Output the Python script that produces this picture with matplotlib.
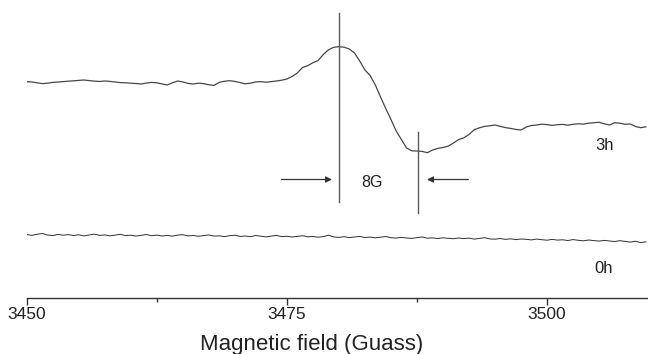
import numpy as np
import matplotlib
matplotlib.use("Agg")
import matplotlib.pyplot as plt

plt.rcParams['font.family'] = ['Liberation Sans', 'DejaVu Sans']

# EPR spectra, field step 0.5 G starting at 3450 G
start_field = 3450.0
step = 0.5

sig_3h = [216.3, 216.0, 215.2, 214.4, 214.8, 215.6, 215.9, 216.4, 216.8, 217.2,
          217.6, 218.0, 217.4, 216.9, 216.5, 217.0, 216.6, 216.0, 215.4, 215.2,
          214.8, 214.5, 214.0, 214.9, 215.6, 215.2, 214.1, 213.0, 215.2, 217.0,
          216.1, 214.6, 214.0, 214.8, 214.4, 213.2, 212.6, 215.6, 216.8, 217.3,
          216.6, 215.4, 214.2, 214.8, 216.1, 216.3, 215.8, 216.4, 217.0, 217.8,
          219.0, 221.5, 225.0, 230.5, 232.3, 235.3, 237.5, 243.5, 248.2, 250.7,
          251.3, 250.8, 249.0, 245.0, 237.0, 228.0, 222.5, 213.0, 201.0, 189.5,
          178.5, 167.0, 158.5, 150.0, 147.2, 147.0, 146.6, 145.3, 148.0, 149.6,
          150.5, 151.8, 155.0, 158.4, 160.2, 163.5, 168.3, 170.2, 171.6, 172.2,
          173.0, 171.6, 170.4, 169.6, 168.6, 168.0, 171.0, 172.5, 173.0, 173.8,
          173.4, 172.6, 173.3, 173.6, 172.8, 173.7, 174.2, 173.9, 174.8, 175.3,
          175.7, 174.2, 173.0, 175.3, 174.8, 173.7, 174.0, 171.5, 170.3, 171.2]

sig_0h = [63.5, 62.6, 63.8, 64.5, 63.0, 62.4, 63.6, 62.8, 63.4, 62.5,
          63.2, 62.1, 63.0, 63.9, 62.6, 63.1, 62.2, 62.9, 63.7, 62.4,
          62.8, 61.9, 62.7, 63.5, 62.3, 62.9, 62.0, 62.6, 61.8, 62.9,
          63.3, 62.1, 62.5, 61.7, 62.4, 63.0, 61.9, 62.2, 61.4, 62.3,
          62.8, 61.6, 62.0, 61.3, 62.5, 61.8, 61.1, 61.9, 62.6, 61.4,
          61.7, 61.0, 61.6, 62.3, 61.2, 61.5, 60.8, 61.4, 62.8, 61.1,
          60.6, 61.3, 60.4, 61.0, 61.6, 60.5, 60.9, 60.2, 60.8, 61.5,
          60.3, 59.9, 60.6, 60.0, 59.6, 60.4, 61.0, 59.8, 60.1, 59.5,
          60.2, 59.7, 59.3, 60.0, 59.4, 59.9, 58.9, 59.6, 60.3, 59.1,
          58.8, 59.5, 58.6, 59.2, 58.4, 59.0, 58.7, 58.1, 58.9, 58.3,
          57.8, 58.6, 57.9, 58.2, 57.5, 58.4, 57.7, 57.2, 58.0, 57.4,
          56.9, 57.6, 57.0, 56.5, 57.3, 56.6, 55.9, 56.8, 55.4, 56.2]

field_3h = start_field + step * np.arange(len(sig_3h))
field_0h = start_field + step * np.arange(len(sig_0h))

peak_field = 3480.0
trough_field = 3487.6
xticks = [3450, 3475, 3500]

fig = plt.figure(figsize=(6.48, 3.54), dpi=100)
ax = fig.add_axes([26.7 / 648, 56 / 354, 621.3 / 648, 298 / 354])

ax.plot(field_3h, sig_3h, color='#474747', lw=0.9)
ax.plot(field_0h, sig_0h, color='#303030', lw=0.7)

# linewidth markers
ax.plot([peak_field, peak_field], [95.7, 284.7], color='#5a5a5a', lw=1.0)
ax.plot([trough_field, trough_field], [84.7, 166.3], color='#5a5a5a', lw=1.0)
ax.annotate('', xy=(3479.6, 118.5), xytext=(3474.2, 118.5),
            arrowprops=dict(arrowstyle='-|>', color='#333333', lw=0.9, mutation_scale=9))
ax.annotate('', xy=(3488.2, 118.5), xytext=(3492.7, 118.5),
            arrowprops=dict(arrowstyle='-|>', color='#333333', lw=0.9, mutation_scale=9))
ax.text(3483.2, 115.3, '8G', ha='center', va='center', fontsize=11.5, color='#222222')
ax.text(3505.5, 153, '3h', ha='center', va='center', fontsize=12, color='#222222')
ax.text(3505.4, 29.3, '0h', ha='center', va='center', fontsize=12, color='#222222')

ax.set_xlim(3450, 3509.7)
ax.set_ylim(0, 298)
ax.set_xticks(xticks)
ax.set_xticks([3462.5, 3487.5], minor=True)
ax.set_yticks([])
for s in ['left', 'right', 'top']:
    ax.spines[s].set_visible(False)
ax.spines['bottom'].set_color('#333333')
ax.spines['bottom'].set_linewidth(1.0)
ax.tick_params(axis='x', which='major', direction='out', length=5, width=1,
               colors='#333333', labelsize=12.5, pad=1.5)
ax.tick_params(axis='x', which='minor', direction='out', length=3, width=1, colors='#333333')
for lab in ax.get_xticklabels():
    lab.set_color('#222222')
ax.set_xlabel('Magnetic field (Guass)', fontsize=16, color='#222222')
ax.xaxis.set_label_coords(0.459, -0.122)

fig.savefig('out.png', dpi=100)
